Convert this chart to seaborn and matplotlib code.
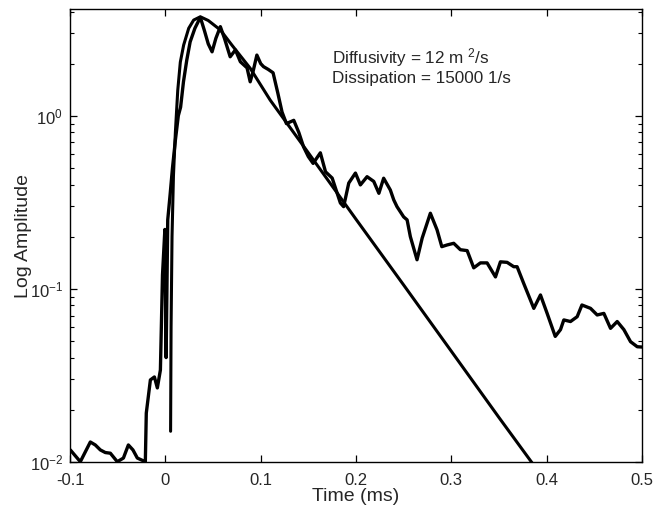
import numpy as np
import pandas as pd
import matplotlib
matplotlib.use("Agg")
import matplotlib.pyplot as plt
import matplotlib.ticker as mticker
import seaborn as sns

# ---- data (time in ms, amplitude) ----
meas_t = [-0.0997, -0.0892, -0.0787, -0.0735, -0.0682, -0.063, -0.0577, -0.0504,
          -0.044, -0.0388, -0.034, -0.0294, -0.021, -0.020, -0.0157, -0.0115,
          -0.0084, -0.0052, -0.003, -0.0005, 0.0008, 0.0025, 0.005, 0.0075, 0.0105,
          0.0136, 0.016, 0.019, 0.0225, 0.026, 0.031, 0.0367, 0.041, 0.045, 0.049,
          0.053, 0.0577, 0.062, 0.068, 0.0735, 0.0787, 0.0857, 0.089, 0.092, 0.096,
          0.100, 0.103, 0.108, 0.113, 0.118, 0.1224, 0.127, 0.1347, 0.140, 0.145,
          0.150, 0.155, 0.1626, 0.168, 0.175, 0.1836, 0.187, 0.1924, 0.1994, 0.2046,
          0.2116, 0.2186, 0.224, 0.229, 0.236, 0.2396, 0.243, 0.25, 0.2536, 0.257,
          0.264, 0.2694, 0.278, 0.285, 0.290, 0.2956, 0.3025, 0.3095, 0.3166, 0.3235,
          0.3305, 0.3375, 0.3463, 0.3515, 0.3585, 0.3655, 0.369, 0.376, 0.3865,
          0.3935, 0.4005, 0.409, 0.4145, 0.418, 0.425, 0.432, 0.437, 0.446, 0.453,
          0.46, 0.467, 0.474, 0.481, 0.488, 0.495, 0.5]
meas_a = [0.0117, 0.0100, 0.0130, 0.0125, 0.0117, 0.0113, 0.0112, 0.0100,
          0.0105, 0.0125, 0.0117, 0.0105, 0.0100, 0.0191, 0.0297, 0.0309,
          0.0267, 0.0339, 0.12, 0.22, 0.04, 0.25, 0.35, 0.50, 0.72,
          1.0, 1.12, 1.57, 2.1, 2.67, 3.2, 3.7, 3.1, 2.6, 2.34,
          2.8, 3.27, 2.8, 2.19, 2.4, 2.05, 1.89, 1.57, 1.8, 2.24,
          2.0, 1.92, 1.85, 1.77, 1.35, 1.05, 0.90, 0.94, 0.80, 0.66,
          0.58, 0.53, 0.61, 0.474, 0.436, 0.313, 0.298, 0.408, 0.466, 0.398,
          0.444, 0.417, 0.356, 0.435, 0.372, 0.326, 0.298, 0.26, 0.25, 0.20,
          0.147, 0.196, 0.273, 0.219, 0.175, 0.179, 0.183, 0.168, 0.166, 0.132,
          0.141, 0.141, 0.117, 0.143, 0.142, 0.134, 0.134, 0.107, 0.077,
          0.092, 0.072, 0.053, 0.058, 0.066, 0.0646, 0.0689, 0.0805, 0.077, 0.0705,
          0.072, 0.059, 0.0646, 0.058, 0.0494, 0.0462, 0.046]

model_t = [0.0055, 0.006, 0.007, 0.0085, 0.0105, 0.013, 0.0157, 0.0192, 0.0245,
           0.0297, 0.0367, 0.045, 0.0577, 0.07, 0.089, 0.11, 0.15, 0.2, 0.25,
           0.3, 0.35, 0.385]
model_a = [0.015, 0.06, 0.2, 0.45, 0.8, 1.4, 2.04, 2.56, 3.2,
           3.57, 3.73, 3.55, 3.13, 2.55, 1.88, 1.23, 0.61, 0.252, 0.105,
           0.0435, 0.018, 0.0098]

xtick_vals = [-0.1, 0.0, 0.1, 0.2, 0.3, 0.4, 0.5]
xtick_labels = ["-0.1", "0", "0.1", "0.2", "0.3", "0.4", "0.5"]
annot_lines = [r"Diffusivity = 12 m $^{2}$/s", "Dissipation = 15000 1/s"]

# ---- style ----
sns.set_style("ticks")
plt.rcParams["font.family"] = ["Liberation Sans", "DejaVu Sans"]
plt.rcParams["mathtext.fontset"] = "custom"
plt.rcParams["mathtext.rm"] = "Liberation Sans"
plt.rcParams["mathtext.it"] = "Liberation Sans:italic"
plt.rcParams["mathtext.default"] = "regular"
plt.rcParams["axes.unicode_minus"] = False

fig = plt.figure(figsize=(6.65, 5.08), dpi=100)
ax = fig.add_axes([0.1053, 0.0911, 0.8601, 0.8906])

meas = pd.DataFrame({"t": meas_t, "a": meas_a})
model = pd.DataFrame({"t": model_t, "a": model_a})

sns.lineplot(data=meas, x="t", y="a", ax=ax, color="black", lw=2.4, sort=False)
sns.lineplot(data=model, x="t", y="a", ax=ax, color="black", lw=2.2, sort=False)

ax.set_yscale("log")
ax.set_xlim(-0.1, 0.5)
ax.set_ylim(0.01, 4.12)
ax.set_xticks(xtick_vals)
ax.set_xticklabels(xtick_labels)
ax.xaxis.set_minor_locator(mticker.NullLocator())
ax.yaxis.set_major_locator(mticker.LogLocator(base=10, numticks=10))
ax.yaxis.set_minor_locator(mticker.LogLocator(base=10, subs=np.arange(2, 10), numticks=20))
ax.yaxis.set_minor_formatter(mticker.NullFormatter())

ax.tick_params(which="both", direction="in", top=True, right=True, labelsize=12, color="black")
ax.tick_params(which="major", length=5, width=0.9)
ax.tick_params(which="minor", length=3, width=0.8)
ax.tick_params(axis="x", which="major", pad=8)
ax.tick_params(axis="y", which="major", pad=5)
for s in ax.spines.values():
    s.set_linewidth(1.0)
    s.set_color("black")

ax.set_xlabel("Time (ms)", fontsize=14, labelpad=0)
ax.set_ylabel("Log Amplitude", fontsize=14, labelpad=-2)

ax.text(0.4575, 0.881, annot_lines[0], transform=ax.transAxes, fontsize=12.3, va="baseline", ha="left")
ax.text(0.4575, 0.837, annot_lines[1], transform=ax.transAxes, fontsize=12.3, va="baseline", ha="left")

fig.savefig("out.png", dpi=100)
